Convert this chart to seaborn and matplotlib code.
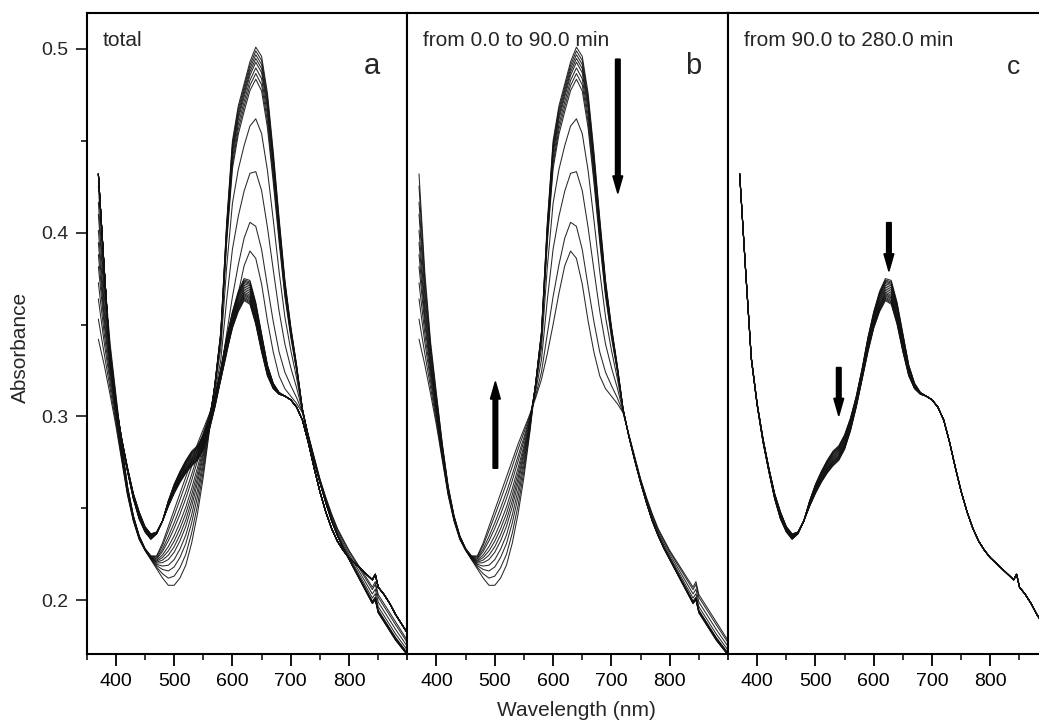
import matplotlib
matplotlib.use("Agg")
import matplotlib.pyplot as plt
import numpy as np
import pandas as pd
import seaborn as sns

# ── data ────────────────────────────────────────────────────────────────────
wavelength = [370, 380, 390, 400, 410, 420, 430, 440, 450, 460, 470, 480, 490,
              500, 510, 520, 530, 540, 550, 560, 570, 580, 590, 600, 610, 620,
              630, 640, 650, 660, 670, 680, 690, 700, 710, 720, 730, 740, 750,
              760, 770, 780, 790, 800, 810, 820, 830, 840, 845, 850, 860, 870,
              880, 890, 900]

# first (0 min) and last (90 min) spectrum of panel b
b_start = [0.342, 0.328, 0.312, 0.295, 0.276, 0.257, 0.243, 0.233, 0.227, 0.222,
           0.217, 0.212, 0.208, 0.208, 0.212, 0.219, 0.231, 0.247, 0.267, 0.291,
           0.318, 0.346, 0.405, 0.450, 0.469, 0.481, 0.493, 0.501, 0.496, 0.476,
           0.444, 0.408, 0.374, 0.349, 0.328, 0.304, 0.289, 0.276, 0.264, 0.253,
           0.243, 0.235, 0.228, 0.222, 0.216, 0.210, 0.204, 0.198, 0.200, 0.193,
           0.188, 0.183, 0.178, 0.174, 0.170]
b_end = [0.432, 0.378, 0.340, 0.312, 0.285, 0.262, 0.246, 0.235, 0.228, 0.224,
         0.224, 0.231, 0.240, 0.249, 0.258, 0.267, 0.276, 0.285, 0.293, 0.301,
         0.310, 0.320, 0.334, 0.350, 0.367, 0.382, 0.390, 0.386, 0.372, 0.352,
         0.335, 0.322, 0.315, 0.311, 0.307, 0.302, 0.290, 0.278, 0.266, 0.256,
         0.247, 0.239, 0.233, 0.227, 0.222, 0.217, 0.212, 0.207, 0.210, 0.203,
         0.198, 0.193, 0.188, 0.183, 0.178]

# first (90 min) and last (280 min) spectrum of panel c
c_start = [0.432, 0.380, 0.331, 0.306, 0.286, 0.270, 0.255, 0.244, 0.237, 0.233,
           0.236, 0.243, 0.254, 0.263, 0.270, 0.276, 0.281, 0.284, 0.290, 0.299,
           0.311, 0.326, 0.343, 0.357, 0.368, 0.375, 0.374, 0.362, 0.345, 0.328,
           0.318, 0.313, 0.311, 0.309, 0.305, 0.298, 0.286, 0.272, 0.259, 0.248,
           0.239, 0.232, 0.227, 0.223, 0.220, 0.217, 0.214, 0.211, 0.214, 0.207,
           0.203, 0.198, 0.192, 0.187, 0.182]
c_end = [0.432, 0.381, 0.332, 0.307, 0.288, 0.272, 0.258, 0.248, 0.240, 0.236,
         0.237, 0.243, 0.251, 0.258, 0.264, 0.269, 0.273, 0.276, 0.282, 0.292,
         0.305, 0.320, 0.335, 0.348, 0.357, 0.363, 0.361, 0.350, 0.335, 0.322,
         0.315, 0.312, 0.311, 0.309, 0.305, 0.298, 0.286, 0.272, 0.259, 0.248,
         0.239, 0.232, 0.227, 0.223, 0.220, 0.217, 0.214, 0.211, 0.214, 0.207,
         0.203, 0.198, 0.192, 0.187, 0.182]

# peak height (~640 nm) and 500 nm value of each spectrum in panel b
b_peaks = [0.502, 0.500, 0.498, 0.496, 0.494, 0.491, 0.488, 0.485,
           0.464, 0.436, 0.407, 0.390]
b_abs500 = [0.208, 0.213, 0.218, 0.222, 0.226, 0.229, 0.232, 0.235,
            0.239, 0.242, 0.246, 0.249]
# peak height (~625 nm) of each spectrum in panel c
c_peaks = [0.376, 0.3752, 0.3745, 0.3738, 0.373, 0.372, 0.371, 0.370, 0.369,
           0.368, 0.3672, 0.3665, 0.3658, 0.365, 0.3643, 0.3637, 0.363]

x_major = [400, 500, 600, 700, 800]
x_minor = [350, 450, 550, 650, 750, 850, 900]
y_major = [0.2, 0.3, 0.4, 0.5]
y_minor = [0.25, 0.35, 0.45]

panel_titles = ["total", "from 0.0 to 90.0 min", "from 90.0 to 280.0 min"]
panel_letters = ["a", "b", "c"]

# ── build long-form table ───────────────────────────────────────────────────
wl = np.array(wavelength)
b0, b1 = np.array(b_start), np.array(b_end)
c0, c1 = np.array(c_start), np.array(c_end)

rows = []
for i, (pk, v500) in enumerate(zip(b_peaks, b_abs500)):
    f = (b_peaks[0] - pk) / (b_peaks[0] - b_peaks[-1])
    g = (v500 - b_abs500[0]) / (b_abs500[-1] - b_abs500[0])
    spec = np.where(wl < 565, b0 + g * (b1 - b0), b0 + f * (b1 - b0))
    rows.append(pd.DataFrame({"wavelength": wl, "absorbance": spec,
                              "curve": f"b{i}", "set": "b"}))
for i, pk in enumerate(c_peaks):
    f = (c_peaks[0] - pk) / (c_peaks[0] - c_peaks[-1])
    rows.append(pd.DataFrame({"wavelength": wl, "absorbance": c0 + f * (c1 - c0),
                              "curve": f"c{i}", "set": "c"}))
df = pd.concat(rows, ignore_index=True)

# ── figure ──────────────────────────────────────────────────────────────────
sns.set_style("ticks")
plt.rcParams["font.family"] = ["Liberation Sans", "DejaVu Sans"]

W, H = 1039, 721
fig = plt.figure(figsize=(W / 100, H / 100), dpi=100)
left, pw = 86.7 / W, 320.65 / W
bottom, ph = 1 - 654 / H, 641 / H
axes = [fig.add_axes([left + i * pw, bottom, pw, ph]) for i in range(3)]

subsets = [df, df[df["set"] == "b"], df[df["set"] == "c"]]
for i, (ax, sub) in enumerate(zip(axes, subsets)):
    sns.lineplot(data=sub, x="wavelength", y="absorbance", units="curve",
                 estimator=None, color="#111111", linewidth=0.75, alpha=0.9,
                 legend=False, ax=ax)
    ax.set_xlim(350, 900)
    ax.set_ylim(0.1706, 0.5196)
    ax.set_xticks(x_major)
    ax.set_xticks(x_minor, minor=True)
    ax.set_xlabel("")
    ax.set_ylabel("")
    for sp in ax.spines.values():
        sp.set_visible(True)
        sp.set_linewidth(1.5)
        sp.set_color("black")
    ax.tick_params(axis="x", which="major", direction="out", length=8.5,
                   width=1.3, labelsize=14, pad=5, colors="black")
    ax.tick_params(axis="x", which="minor", direction="out", length=4.5,
                   width=1.3)
    if i == 0:
        ax.set_yticks(y_major)
        ax.set_yticks(y_minor, minor=True)
        ax.set_yticklabels([f"{v:.1f}" for v in y_major])
        ax.tick_params(axis="y", which="major", direction="out", length=8,
                       width=1.3, labelsize=14, pad=5)
        ax.tick_params(axis="y", which="minor", direction="out", length=4,
                       width=1.3)
    else:
        ax.set_yticks([])
        ax.tick_params(axis="y", which="both", left=False, labelleft=False)
    ax.text(0.05, 0.9485, panel_titles[i], transform=ax.transAxes,
            fontsize=15, ha="left", va="baseline")
    ax.text(0.89, 0.905, panel_letters[i], transform=ax.transAxes,
            fontsize=21 if i < 2 else 19, ha="center", va="baseline")

# arrows marking the direction of change
arrow_kw = dict(width=8, head_width=17, head_length=0.0095,
                length_includes_head=True, color="black", zorder=5)
axes[1].arrow(711, 0.4945, 0, 0.4214 - 0.4945, **arrow_kw)
axes[1].arrow(501, 0.2717, 0, 0.3189 - 0.2717, **arrow_kw)
axes[2].arrow(626, 0.4055, 0, 0.379 - 0.4055, **arrow_kw)
axes[2].arrow(540, 0.3266, 0, 0.3003 - 0.3266, **arrow_kw)

fig.text(20.7 / W, 1 - 347.6 / H, "Absorbance", rotation=90, fontsize=15,
         ha="center", va="center")
fig.text(576.7 / W, 1 - 711 / H, "Wavelength (nm)", fontsize=15,
         ha="center", va="center")

fig.savefig("out.png", dpi=100)
